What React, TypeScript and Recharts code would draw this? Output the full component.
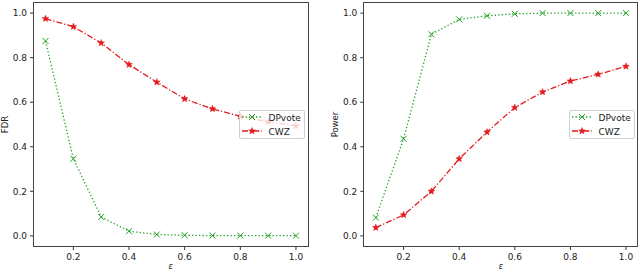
import React from "react";
import { LineChart, Line, XAxis, YAxis } from "recharts";

const epsilons = [0.1, 0.2, 0.3, 0.4, 0.5, 0.6, 0.7, 0.8, 0.9, 1.0];
const dpvoteFdr = [0.875, 0.346, 0.085, 0.021, 0.006, 0.003, 0.001, 0.001, 0.001, 0.001];
const cwzFdr = [0.975, 0.939, 0.866, 0.769, 0.69, 0.615, 0.57, 0.537, 0.512, 0.494];
const dpvotePower = [0.082, 0.436, 0.905, 0.972, 0.988, 0.997, 1.0, 1.0, 1.0, 1.0];
const cwzPower = [0.037, 0.094, 0.2, 0.346, 0.466, 0.576, 0.646, 0.695, 0.725, 0.761];
const xTicks = [0.2, 0.4, 0.6, 0.8, 1.0];
const yTicks = [0, 0.2, 0.4, 0.6, 0.8, 1.0];
const seriesNames = ["DPvote", "CWZ"];

const GREEN = "#22a022";
const RED = "#e41a1c";
const FONT = "'DejaVu Sans', sans-serif";

const XMark = ({ cx, cy, color = GREEN }: any) => {
  if (cx == null || cy == null) return null;
  const s = 3;
  return (
    <path
      d={`M${cx - s},${cy - s}L${cx + s},${cy + s}M${cx - s},${cy + s}L${cx + s},${cy - s}`}
      stroke={color}
      strokeWidth={1}
      fill="none"
    />
  );
};

const StarMark = ({ cx, cy, color = RED }: any) => {
  if (cx == null || cy == null) return null;
  const pts: string[] = [];
  for (let i = 0; i < 10; i++) {
    const r = i % 2 === 0 ? 3.6 : 1.6;
    const a = -Math.PI / 2 + (i * Math.PI) / 5;
    pts.push(`${(cx + r * Math.cos(a)).toFixed(2)},${(cy + r * Math.sin(a)).toFixed(2)}`);
  }
  return <polygon points={pts.join(" ")} fill={color} stroke={color} strokeWidth={0.4} />;
};

const tickStyle = { fontSize: 9, fill: "#222", fontFamily: FONT };

interface PanelProps {
  left: number;
  yLabel: string;
  yAxisWidth: number;
  rightMargin: number;
  green: number[];
  red: number[];
  labelX: number;
}

const Legend = ({ x, y }: { x: number; y: number }) => (
  <div
    style={{
      position: "absolute",
      left: x,
      top: y,
      width: 66,
      height: 29,
      boxSizing: "border-box",
      border: "1px solid #d0d0d0",
      borderRadius: 2,
      background: "rgba(255,255,255,0.8)",
      fontFamily: FONT,
      fontSize: 9,
      color: "#222",
    }}
  >
    <svg width={30} height={29} style={{ position: "absolute", left: -1, top: -1 }}>
      <line x1={3} x2={23} y1={7} y2={7} stroke={GREEN} strokeWidth={1.3} strokeDasharray="1.3 2.2" />
      <XMark cx={13} cy={7} />
      <line x1={3} x2={23} y1={21} y2={21} stroke={RED} strokeWidth={1.3} strokeDasharray="6 2 1.3 2" />
      <StarMark cx={13} cy={21} />
    </svg>
    <div style={{ position: "absolute", left: 29, top: 1, lineHeight: "12px" }}>{seriesNames[0]}</div>
    <div style={{ position: "absolute", left: 29, top: 15, lineHeight: "12px" }}>{seriesNames[1]}</div>
  </div>
);

const Panel = ({ left, yLabel, yAxisWidth, rightMargin, green, red, labelX }: PanelProps) => {
  const rows = epsilons.map((e, i) => ({ eps: e, dpvote: green[i], cwz: red[i] }));
  const plotLeft = yAxisWidth;
  const plotWidth = 320 - yAxisWidth - rightMargin;
  return (
    <div style={{ position: "absolute", left, top: 0, width: 320, height: 272 }}>
      <LineChart
        width={320}
        height={272}
        data={rows}
        margin={{ top: 2, right: rightMargin, bottom: 0, left: 0 }}
      >
        <XAxis
          dataKey="eps"
          type="number"
          domain={[0.055, 1.045]}
          ticks={xTicks}
          tickFormatter={(v: number) => v.toFixed(1)}
          height={25}
          axisLine={false}
          tickLine={{ stroke: "#333" }}
          tickSize={3}
          tickMargin={4}
          tick={tickStyle}
          allowDataOverflow
        />
        <YAxis
          type="number"
          domain={[-0.05, 1.05]}
          ticks={yTicks}
          tickFormatter={(v: number) => v.toFixed(1)}
          width={yAxisWidth}
          axisLine={false}
          tickLine={{ stroke: "#333" }}
          tickSize={3}
          tickMargin={3}
          tick={tickStyle}
          allowDataOverflow
        />
        <Line
          type="linear"
          dataKey="dpvote"
          stroke={GREEN}
          strokeWidth={1.3}
          strokeDasharray="1.3 2.2"
          dot={(p: any) => <XMark key={`g${p.index}`} cx={p.cx} cy={p.cy} />}
          activeDot={false}
          isAnimationActive={false}
        />
        <Line
          type="linear"
          dataKey="cwz"
          stroke={RED}
          strokeWidth={1.3}
          strokeDasharray="6 2 1.3 2"
          dot={(p: any) => <StarMark key={`r${p.index}`} cx={p.cx} cy={p.cy} />}
          activeDot={false}
          isAnimationActive={false}
        />
      </LineChart>
      <div
        style={{
          position: "absolute",
          left: plotLeft,
          top: 2,
          width: plotWidth,
          height: 245,
          boxSizing: "border-box",
          border: "1px solid #444",
          pointerEvents: "none",
        }}
      />
      <Legend x={plotLeft + plotWidth - 70} y={110} />
      <div
        style={{
          position: "absolute",
          left: labelX - 30,
          top: 120,
          width: 60,
          height: 9,
          lineHeight: "9px",
          textAlign: "center",
          fontFamily: FONT,
          fontSize: 8.5,
          color: "#222",
          transform: "rotate(-90deg)",
        }}
      >
        {yLabel}
      </div>
      <div
        style={{
          position: "absolute",
          left: plotLeft + plotWidth / 2 - 10,
          top: 262,
          width: 20,
          height: 10,
          lineHeight: "10px",
          textAlign: "center",
          fontFamily: FONT,
          fontSize: 8,
          fontStyle: "italic",
          color: "#222",
        }}
      >
        ε
      </div>
    </div>
  );
};

export default function App() {
  return (
    <div style={{ position: "absolute", left: 0, top: 0, width: 640, height: 272, background: "#fff", overflow: "hidden" }}>
      <Panel left={0} yLabel="FDR" yAxisWidth={33} rightMargin={11.5} green={dpvoteFdr} red={cwzFdr} labelX={5} />
      <Panel left={320} yLabel="Power" yAxisWidth={43.3} rightMargin={1.5} green={dpvotePower} red={cwzPower} labelX={15} />
    </div>
  );
}
